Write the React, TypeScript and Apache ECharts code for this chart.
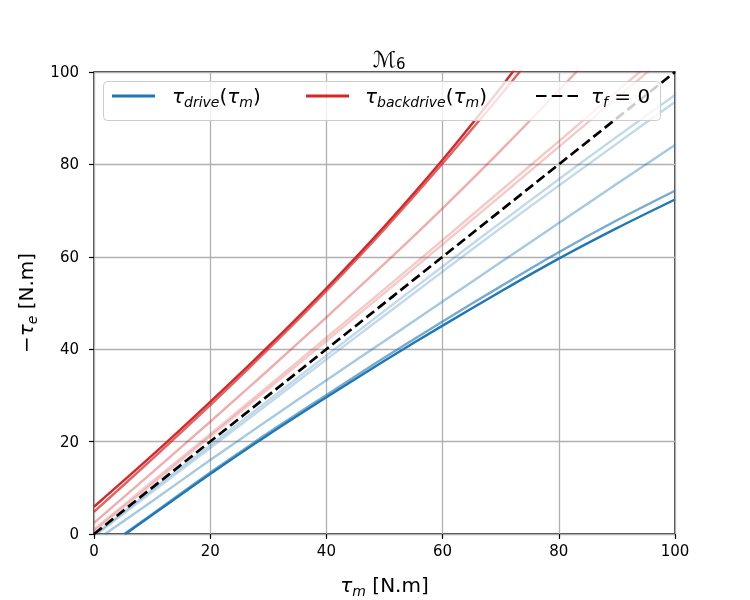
import React, { useEffect, useRef } from "react";
import * as echarts from "echarts";

// ---- data ----
const X_TICKS = [0, 20, 40, 60, 80, 100];

// drive curves (blue)
const DRIVE_1_X = [5.4, 10, 20, 30, 40, 50, 60, 70, 80, 90, 100];
const DRIVE_1_Y = [0, 4.1, 13.0, 21.5, 29.6, 37.5, 45.1, 52.5, 59.6, 66.2, 72.4];
const DRIVE_2_X = [5.2, 10, 20, 30, 40, 50, 60, 70, 80, 90, 100];
const DRIVE_2_Y = [0, 4.3, 13.3, 21.9, 30.1, 38.2, 46.0, 53.6, 61.0, 67.9, 74.3];
const DRIVE_3_X = [1.9, 10, 20, 30, 40, 50, 60, 70, 80, 90, 100];
const DRIVE_3_Y = [0, 7.1, 16.0, 24.7, 33.3, 41.8, 50.3, 58.8, 67.3, 75.8, 84.2];
const DRIVE_4_X = [0.3, 10, 20, 30, 40, 50, 60, 70, 80, 90, 100];
const DRIVE_4_Y = [0, 9.6, 19.2, 28.9, 38.6, 48.3, 57.9, 67.4, 76.8, 86.0, 95.0];
const DRIVE_5_X = [0.5, 10, 20, 30, 40, 50, 60, 70, 80, 90, 100];
const DRIVE_5_Y = [0, 9.1, 18.6, 28.2, 37.8, 47.3, 56.8, 66.2, 75.4, 84.5, 93.5];

// backdrive curves (red)
const BACK_1_X = [0, 10, 20, 30, 40, 50, 60, 70, 75];
const BACK_1_Y = [5.9, 17.0, 28.6, 40.6, 53.2, 66.6, 81.0, 96.6, 105.0];
const BACK_2_X = [0, 10, 20, 30, 40, 50, 60, 70, 75];
const BACK_2_Y = [4.8, 16.2, 27.9, 40.0, 52.6, 66.0, 80.2, 95.0, 102.8];
const BACK_3_X = [0, 10, 20, 30, 40, 50, 60, 70, 80, 85];
const BACK_3_Y = [2.4, 13.3, 24.3, 35.5, 46.9, 58.5, 70.5, 83.0, 96.0, 102.7];
const BACK_4_X = [0, 10, 20, 30, 40, 50, 60, 70, 80, 90, 100];
const BACK_4_Y = [1.0, 11.3, 21.6, 32.0, 42.5, 53.0, 63.6, 74.3, 85.0, 95.8, 106.6];
const BACK_5_X = [0, 10, 20, 30, 40, 50, 60, 70, 80, 90, 100];
const BACK_5_Y = [0.6, 10.8, 21.1, 31.4, 41.8, 52.2, 62.7, 73.2, 83.8, 94.4, 105.0];

// reference tau_f = 0
const ZERO_X = [0, 100];
const ZERO_Y = [0, 100];

const NAME_DRIVE = "drive";
const NAME_BACK = "backdrive";
const NAME_ZERO = "zero";

const FONT = "DejaVu Sans";

function pairs(xs: number[], ys: number[]) {
  return xs.map((x, i) => [x, ys[i]]);
}

function lineSeries(name: string, xs: number[], ys: number[], color: string, z: number) {
  return {
    type: "line",
    name,
    data: pairs(xs, ys),
    showSymbol: false,
    symbol: "none",
    smooth: 0.3,
    z,
    lineStyle: { color, width: 2.4 },
    itemStyle: { color },
    clip: true,
  };
}

const BLUE = (a: number) => `rgba(31,119,180,${a})`;
const RED = (a: number) => `rgba(214,39,40,${a})`;

const richText = {
  t: { fontSize: 20, fontFamily: FONT, fontStyle: "italic", lineHeight: 26, verticalAlign: "middle", color: "#000" },
  u: { fontSize: 20, fontFamily: FONT, lineHeight: 26, verticalAlign: "middle", color: "#000" },
  s: { fontSize: 14, fontFamily: FONT, fontStyle: "italic", lineHeight: 14, verticalAlign: "bottom", color: "#000" },
};

export default function App() {
  const ref = useRef<HTMLDivElement>(null);
  useEffect(() => {
    if (!ref.current) return;
    const chart = echarts.init(ref.current, undefined, { renderer: "svg" });
    const legendBase = {
      orient: "horizontal",
      top: 86,
      padding: 0,
      itemWidth: 43,
      itemHeight: 3,
      z: 4,
      selectedMode: false,
    };
    const option: any = {
      animation: false,
      textStyle: { fontFamily: FONT },
      title: {
        text: "{m|ℳ}{s|6}",
        left: 384,
        textAlign: "center",
        top: 42,
        textStyle: {
          fontWeight: "normal",
          rich: {
            m: { fontSize: 22, fontFamily: FONT, fontStyle: "italic", fontWeight: "normal", lineHeight: 24, verticalAlign: "middle", color: "#000" },
            s: { fontSize: 15, fontFamily: FONT, fontWeight: "normal", lineHeight: 15, verticalAlign: "bottom", color: "#000" },
          },
        },
      },
      grid: {
        left: 94,
        right: 75,
        top: 72,
        bottom: 66,
        show: true,
        borderColor: "#000",
        borderWidth: 1.4,
        containLabel: false,
        outerBoundsMode: "none",
      },
      xAxis: {
        type: "value",
        min: 0,
        max: 100,
        interval: 20,
        name: "{t|τ}{s|m}{u| [N.m]}",
        nameLocation: "middle",
        nameGap: 38,
        nameTextStyle: { rich: richText },
        axisLine: { show: false },
        axisTick: { show: true, inside: false, length: 5, lineStyle: { color: "#000", width: 1.2 } },
        axisLabel: {
          margin: 9,
          fontSize: 15,
          color: "#000",
          fontFamily: FONT,
          customValues: X_TICKS,
        },
        splitLine: { show: true, lineStyle: { color: "#b0b0b0", width: 1.3 } },
      },
      yAxis: {
        type: "value",
        min: 0,
        max: 100,
        interval: 20,
        name: "{u|−}{t|τ}{s|e}{u| [N.m]}",
        nameLocation: "middle",
        nameRotate: 90,
        nameGap: 48,
        nameTextStyle: { rich: richText },
        axisLine: { show: false },
        axisTick: { show: true, inside: false, length: 5, lineStyle: { color: "#000", width: 1.2 } },
        axisLabel: { margin: 15, fontSize: 15, color: "#000", fontFamily: FONT },
        splitLine: { show: true, lineStyle: { color: "#b0b0b0", width: 1.3 } },
      },
      legend: [
        {
          ...legendBase,
          left: 112,
          data: [{ name: NAME_DRIVE, icon: "rect" }],
          formatter: () => "{t|τ}{s|drive}{u|(}{t|τ}{s|m}{u|)}",
          textStyle: { rich: richText, padding: [0, 0, 0, 12] },
        },
        {
          ...legendBase,
          left: 306,
          data: [{ name: NAME_BACK, icon: "rect" }],
          formatter: () => "{t|τ}{s|backdrive}{u|(}{t|τ}{s|m}{u|)}",
          textStyle: { rich: richText, padding: [0, 0, 0, 11] },
        },
        {
          ...legendBase,
          left: 536,
          itemWidth: 42,
          data: [{ name: NAME_ZERO, icon: "path://M0,0h10v2h-10z M15,0h10v2h-10z M30,0h10v2h-10z" }],
          formatter: () => "{t|τ}{s|f}{u| = 0}",
          textStyle: { rich: richText, padding: [0, 0, 0, 8] },
        },
      ],
      graphic: [
        {
          type: "rect",
          z: 3,
          shape: { x: 103.5, y: 81.5, width: 557, height: 39, r: 4 },
          style: { fill: "rgba(255,255,255,0.8)", stroke: "#cccccc", lineWidth: 1 },
        },
      ],
      series: [
        lineSeries("d5", DRIVE_5_X, DRIVE_5_Y, BLUE(0.28), 2),
        lineSeries("d4", DRIVE_4_X, DRIVE_4_Y, BLUE(0.28), 2),
        lineSeries("d3", DRIVE_3_X, DRIVE_3_Y, BLUE(0.4), 2),
        lineSeries("d2", DRIVE_2_X, DRIVE_2_Y, BLUE(0.62), 2),
        lineSeries(NAME_DRIVE, DRIVE_1_X, DRIVE_1_Y, BLUE(1), 2),
        lineSeries("b5", BACK_5_X, BACK_5_Y, RED(0.25), 2),
        lineSeries("b4", BACK_4_X, BACK_4_Y, RED(0.25), 2),
        lineSeries("b3", BACK_3_X, BACK_3_Y, RED(0.38), 2),
        lineSeries("b2", BACK_2_X, BACK_2_Y, RED(0.72), 2),
        lineSeries(NAME_BACK, BACK_1_X, BACK_1_Y, RED(1), 2),
        {
          type: "line",
          name: NAME_ZERO,
          data: pairs(ZERO_X, ZERO_Y),
          showSymbol: false,
          symbol: "none",
          z: 2,
          lineStyle: { color: "#000", width: 2.7, type: [10, 4.5] },
          itemStyle: { color: "#000" },
        },
      ],
    };
    chart.setOption(option);
    return () => chart.dispose();
  }, []);
  return <div ref={ref} style={{ position: "fixed", top: 0, left: 0, width: 750, height: 600 }} />;
}
